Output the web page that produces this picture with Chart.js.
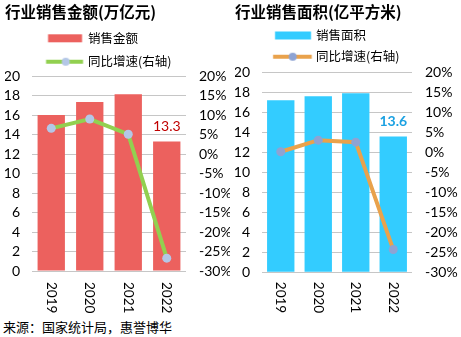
<!DOCTYPE html>
<html>
<head>
<meta charset="utf-8">
<script src="https://cdn.jsdelivr.net/npm/chart.js@4"></script>
<style>
  html, body { margin: 0; padding: 0; background: #fff; }
  body { width: 461px; height: 337px; position: relative; overflow: hidden; }
  .box { position: absolute; top: 0; height: 315px; }
  #left { left: 0; width: 230px; }
  #right { left: 230px; width: 231px; }
  #source { position: absolute; left: 3px; top: 318px; font: 13px "Noto Sans CJK SC", sans-serif; line-height: 17px; color: #000; }
</style>
</head>
<body>
<div class="box" id="left"><canvas id="amountChart"></canvas></div>
<div class="box" id="right"><canvas id="areaChart"></canvas></div>
<div id="source">来源：国家统计局，惠誉博华</div>
<script>
const years = ['2019', '2020', '2021', '2022'];
const salesAmount = [16.0, 17.35, 18.15, 13.3];   // 万亿元
const amountGrowth = [6.6, 9.0, 5.1, -26.7];      // %
const salesArea = [17.25, 17.65, 17.95, 13.6];    // 亿平方米
const areaGrowth = [0.2, 3.1, 2.6, -24.3];        // %

const CJK = '"Noto Sans CJK SC", sans-serif';
const NUM = 'Lato, "Noto Sans", sans-serif';

// legend icons drawn on a small canvas, used as pointStyle images
function barIcon(color, dx, w) {
  const c = document.createElement('canvas');
  c.width = 60; c.height = 12;
  const g = c.getContext('2d');
  g.fillStyle = color;
  g.fillRect(30 + dx - w / 2, 2, w, 8);
  return c;
}
function lineIcon(color, dot, dx, w, dotDx) {
  const c = document.createElement('canvas');
  c.width = 60; c.height = 12;
  const g = c.getContext('2d');
  g.strokeStyle = color;
  g.lineWidth = 4;
  g.beginPath();
  g.moveTo(30 + dx - w / 2, 6);
  g.lineTo(30 + dx + w / 2, 6);
  g.stroke();
  g.fillStyle = dot;
  g.beginPath();
  g.arc(30 + dotDx, 6, 4, 0, Math.PI * 2);
  g.fill();
  return c;
}

const yearLabels = {
  id: 'yearLabels',
  afterDraw(chart, args, opts) {
    const ctx = chart.ctx;
    const x = chart.scales.x;
    ctx.save();
    ctx.font = '13.5px ' + NUM;
    ctx.fillStyle = '#000';
    ctx.textAlign = 'left';
    ctx.textBaseline = 'middle';
    chart.data.labels.forEach((lab, i) => {
      ctx.save();
      ctx.translate(x.getPixelForTick(i), chart.chartArea.bottom + opts.offset);
      ctx.rotate(Math.PI / 2);
      ctx.fillText(lab, 0, 0);
      ctx.restore();
    });
    ctx.restore();
  }
};

const lastBarLabel = {
  id: 'lastBarLabel',
  afterDatasetsDraw(chart, args, opts) {
    const meta = chart.getDatasetMeta(0);
    const i = meta.data.length - 1;
    const bar = meta.data[i];
    const ctx = chart.ctx;
    ctx.save();
    ctx.font = opts.weight + ' 14px ' + NUM;
    ctx.fillStyle = opts.color;
    ctx.textAlign = 'center';
    ctx.textBaseline = 'middle';
    ctx.fillText(chart.data.datasets[0].data[i].toFixed(1), bar.x, bar.y - 15.3);
    ctx.restore();
  }
};

function makeChart(id, cfg) {
  return new Chart(document.getElementById(id), {
    data: {
      labels: years,
      datasets: [
        {
          type: 'bar', label: cfg.barLabel, data: cfg.bars, yAxisID: 'y',
          backgroundColor: cfg.barColor, order: 1,
          categoryPercentage: 1, barPercentage: cfg.barPct
        },
        {
          type: 'line', label: '同比增速(右轴)', data: cfg.growth, yAxisID: 'y1',
          borderColor: cfg.lineColor, borderWidth: 4, tension: 0,
          pointRadius: 4.5, pointHoverRadius: 4.5, pointBorderWidth: 0,
          pointBackgroundColor: cfg.dotColor, order: 0
        }
      ]
    },
    options: {
      responsive: true,
      maintainAspectRatio: false,
      animation: false,
      layout: { padding: { left: 5, right: 0, top: 0, bottom: 0 } },
      plugins: {
        title: {
          display: true, text: cfg.title, align: 'start', color: '#000',
          font: { family: CJK, size: 15.5, weight: 'bold', lineHeight: 1 },
          padding: cfg.titlePad
        },
        legend: {
          display: true, position: 'top', align: 'start', fullSize: false,
          maxHeight: cfg.legendHeight,
          labels: {
            usePointStyle: true, pointStyleWidth: cfg.iconW, padding: cfg.legendPad,
            color: '#000', font: { family: CJK, size: 12.5 },
            generateLabels: () => [
              { text: cfg.barLabel, pointStyle: cfg.barIcon, fillStyle: cfg.barColor, strokeStyle: cfg.barColor, lineWidth: 0, hidden: false, datasetIndex: 0 },
              { text: '同比增速(右轴)', pointStyle: cfg.lineIcon, fillStyle: cfg.lineColor, strokeStyle: cfg.lineColor, lineWidth: 0, hidden: false, datasetIndex: 1 }
            ]
          }
        },
        tooltip: { enabled: false },
        yearLabels: { offset: cfg.yearOffset },
        lastBarLabel: { color: cfg.valueColor, weight: cfg.valueWeight }
      },
      scales: {
        x: {
          grid: { display: false }, border: { display: false },
          ticks: { display: false },
          afterFit: s => { s.height = cfg.xHeight; }
        },
        y: {
          position: 'left', min: 0, max: 20,
          ticks: { stepSize: 2, autoSkip: false, padding: 12, color: '#000', font: { family: NUM, size: 14 } },
          grid: { color: '#C6C6C6', lineWidth: 1, drawTicks: false },
          border: { display: false },
          afterFit: s => { s.width = 27; }
        },
        y1: {
          position: 'right', min: -30, max: 20,
          ticks: { stepSize: 5, autoSkip: false, padding: 13, color: '#000', font: { family: NUM, size: 14 }, callback: v => v + '%' },
          grid: { drawOnChartArea: false, drawTicks: false },
          border: { display: false },
          afterFit: s => { s.width = cfg.rightW; }
        }
      }
    },
    plugins: [yearLabels, lastBarLabel]
  });
}

makeChart('amountChart', {
  title: '行业销售金额(万亿元)',
  barLabel: '销售金额',
  bars: salesAmount,
  growth: amountGrowth,
  barColor: '#EC615E',
  lineColor: '#92D050',
  dotColor: '#B4C7E7',
  valueColor: '#C00000',
  valueWeight: 'normal',
  barPct: 0.71,
  titlePad: { top: 4.75, bottom: 0.9 },
  legendPad: 10.9,
  legendHeight: 55,
  iconW: 38.85,
  barIcon: barIcon('#EC615E', 2.7, 34),
  lineIcon: lineIcon('#92D050', '#B4C7E7', 2.2, 37, 3.4),
  xHeight: 44,
  rightW: 44,
  yearOffset: 11
});

makeChart('areaChart', {
  title: '行业销售面积(亿平方米)',
  barLabel: '销售面积',
  bars: salesArea,
  growth: areaGrowth,
  barColor: '#33CCFF',
  lineColor: '#E9A24C',
  dotColor: '#8EA3D3',
  valueColor: '#1BA1E2',
  valueWeight: 'bold',
  barPct: 0.73,
  titlePad: { top: 3.95, bottom: 1.1 },
  legendPad: 8.7,
  legendHeight: 52.15,
  iconW: 39,
  barIcon: barIcon('#33CCFF', 2.8, 36),
  lineIcon: lineIcon('#E9A24C', '#8EA3D3', 2.2, 38.7, 2.5),
  xHeight: 42.7,
  rightW: 49,
  yearOffset: 9.5
});
</script>
</body>
</html>
